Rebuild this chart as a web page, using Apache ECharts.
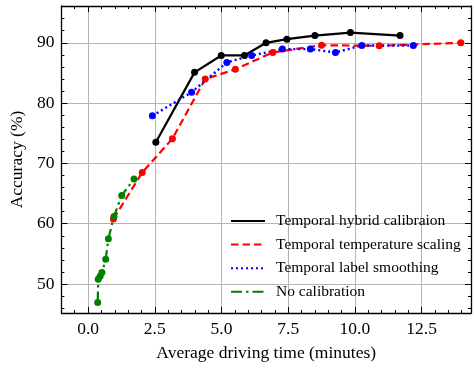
<!DOCTYPE html>
<html><head><meta charset="utf-8">
<script src="https://cdn.jsdelivr.net/npm/echarts@6/dist/echarts.min.js"></script>
<style>html,body{margin:0;padding:0;background:#fff}#c{width:474px;height:369px}</style>
</head><body><div id="c"></div>
<script>
// ---- data ----
const seriesNames = ['Temporal hybrid calibraion', 'Temporal temperature scaling', 'Temporal label smoothing', 'No calibration'];
const hybridX = [2.54, 3.99, 4.99, 5.86, 6.67, 7.45, 8.5, 9.83, 11.69];
const hybridY = [73.5, 85.1, 87.9, 87.9, 90.0, 90.6, 91.2, 91.7, 91.2];
const tempX = [0.95, 2.03, 3.16, 4.39, 5.52, 6.92, 8.75, 10.91, 13.97];
const tempY = [60.8, 68.5, 74.1, 84.0, 85.6, 88.4, 89.6, 89.5, 90.0];
const smoothX = [2.41, 3.88, 5.2, 6.13, 7.28, 8.33, 9.27, 10.26, 12.19];
const smoothY = [77.9, 81.8, 86.75, 87.9, 88.95, 88.95, 88.4, 89.55, 89.55];
const noCalX = [0.36, 0.38, 0.45, 0.52, 0.66, 0.76, 0.97, 1.26, 1.72];
const noCalY = [46.95, 50.8, 51.3, 51.9, 54.1, 57.5, 61.2, 64.7, 67.4];
const xTickStep = 2.5, xMinorStep = 0.5;
const yTickStep = 10, yMinorStep = 2;
const xName = 'Average driving time (minutes)';
const yName = 'Accuracy (%)';

// ---- layout / style ----
const xMin = -1, xMax = 14.35, yMin = 45.2, yMax = 96.1;
const FONT = 'Liberation Serif';
const pairs = (xs, ys) => xs.map((x, i) => [x, ys[i]]);
const isMult = (v, s) => Math.abs(v / s - Math.round(v / s)) < 1e-6;
const black = '#000';

function ax(o) {
  return Object.assign({
    type: 'value', axisLine: { show: false, onZero: false, lineStyle: { color: black, width: 1.3 } },
    axisTick: { show: true, inside: true, length: 6, lineStyle: { color: black, width: 1 } },
    axisLabel: { show: false }, splitLine: { show: false }, z: 2
  }, o);
}
const xLabel = { show: true, margin: 7, color: black, fontFamily: FONT, fontSize: 17.5,
  formatter: v => isMult(v, xTickStep) ? (Math.abs(v) < 1e-9 ? 0 : v).toFixed(1) : '' };
const yLabel = { show: true, margin: 7, color: black, fontFamily: FONT, fontSize: 17.5,
  formatter: v => isMult(v, yTickStep) ? String(Math.round(v)) : '' };
const grid = { color: '#b4b4b4', width: 1 };

const xAxes = [
  ax({ position: 'bottom', min: xMin, max: xMax, minInterval: xTickStep, maxInterval: xTickStep, z: 0,
       axisLabel: xLabel, splitLine: { show: true, lineStyle: grid },
       name: xName, nameLocation: 'middle', nameGap: 31,
       nameTextStyle: { fontFamily: FONT, fontSize: 17.5, color: black } }),
  ax({ position: 'bottom', min: xMin, max: xMax, minInterval: xMinorStep, maxInterval: xMinorStep,
       axisLine: { show: true, onZero: false, lineStyle: { color: black, width: 1.3 } },
       axisTick: { show: true, inside: true, length: 3, lineStyle: { color: black, width: 1 } } }),
  ax({ position: 'top', min: xMin, max: xMax, minInterval: xTickStep, maxInterval: xTickStep,
       axisLine: { show: true, onZero: false, lineStyle: { color: black, width: 1.3 } } }),
  ax({ position: 'top', min: xMin, max: xMax, minInterval: xMinorStep, maxInterval: xMinorStep,
       axisTick: { show: true, inside: true, length: 3, lineStyle: { color: black, width: 1 } } })
];
const yAxes = [
  ax({ position: 'left', min: yMin, max: yMax, minInterval: yTickStep, maxInterval: yTickStep, z: 0,
       axisLabel: yLabel, splitLine: { show: true, lineStyle: grid },
       name: yName, nameLocation: 'middle', nameGap: 35, nameRotate: 90,
       nameTextStyle: { fontFamily: FONT, fontSize: 17.5, color: black } }),
  ax({ position: 'left', min: yMin, max: yMax, minInterval: yMinorStep, maxInterval: yMinorStep,
       axisLine: { show: true, onZero: false, lineStyle: { color: black, width: 1.3 } },
       axisTick: { show: true, inside: true, length: 3, lineStyle: { color: black, width: 1 } } }),
  ax({ position: 'right', min: yMin, max: yMax, minInterval: yTickStep, maxInterval: yTickStep,
       axisLine: { show: true, onZero: false, lineStyle: { color: black, width: 1.3 } } }),
  ax({ position: 'right', min: yMin, max: yMax, minInterval: yMinorStep, maxInterval: yMinorStep,
       axisTick: { show: true, inside: true, length: 3, lineStyle: { color: black, width: 1 } } })
];

function line(name, xs, ys, color, type, width) {
  return { type: 'line', name, data: pairs(xs, ys), xAxisIndex: 0, yAxisIndex: 0,
    symbol: 'circle', symbolSize: 7, showSymbol: true, z: 3,
    lineStyle: { color, width, type }, itemStyle: { color }, emphasis: { disabled: true } };
}

const chart = echarts.init(document.getElementById('c'), null, { renderer: 'canvas' });
chart.setOption({
  animation: false,
  backgroundColor: '#fff',
  grid: { left: 61, right: 2, top: 6, bottom: 56, containLabel: false },
  xAxis: xAxes,
  yAxis: yAxes,
  legend: {
    orient: 'vertical', left: 225, top: 208, itemWidth: 34, itemHeight: 14, itemGap: 7.6,
    data: seriesNames, selectedMode: false,
    itemStyle: { opacity: 0 },
    textStyle: { fontFamily: FONT, fontSize: 15.5, color: black, padding: [0, 0, 0, 6] }
  },
  series: [
    line(seriesNames[0], hybridX, hybridY, '#000000', 'solid', 2.2),
    line(seriesNames[1], tempX, tempY, '#ff0000', [7.5, 4], 2.2),
    line(seriesNames[2], smoothX, smoothY, '#0000ff', [2, 3], 2.4),
    line(seriesNames[3], noCalX, noCalY, '#008000', [11, 4, 2.5, 4], 2.2)
  ]
});
</script></body></html>
